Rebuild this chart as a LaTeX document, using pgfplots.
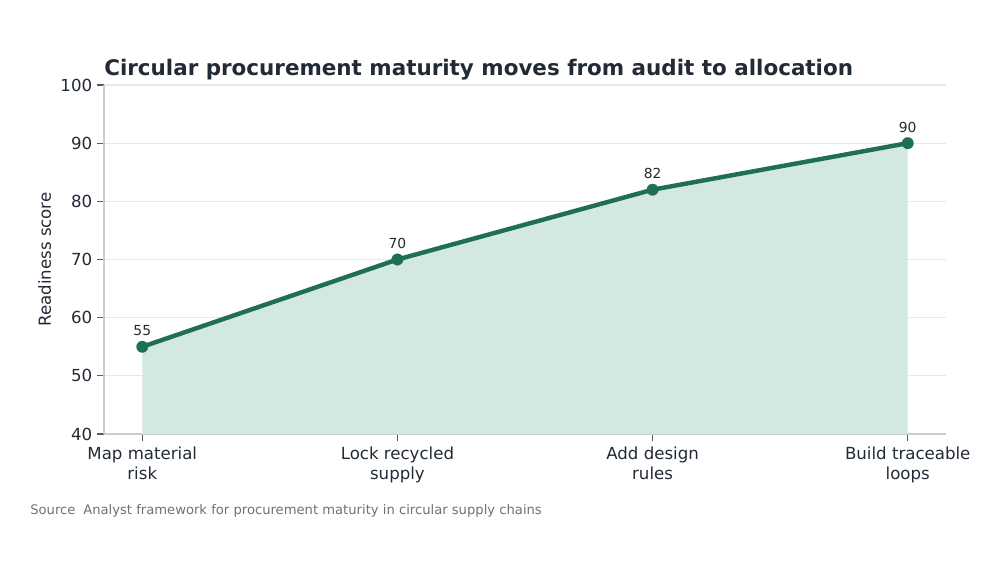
\documentclass[border=0pt]{standalone}
\usepackage{pgfplots}
\pgfplotsset{compat=1.18}
\usepackage{fontspec}
\setmainfont{DejaVu Sans}

\definecolor{linegreen}{HTML}{1F6F54}
\definecolor{fillgreen}{HTML}{D4E8E2}
\definecolor{titleink}{HTML}{222A35}
\definecolor{gridgray}{HTML}{E6E8EB}
\definecolor{spinegray}{HTML}{C9CDD2}
\definecolor{sourcegray}{HTML}{6E7378}

\begin{document}
\begin{tikzpicture}
  % canvas
  \path[fill=white] (0in,0in) rectangle (9.98in,-5.64in);

  \begin{axis}[
    at={(1.04in,-4.34in)}, anchor=south west,
    scale only axis, width=8.42in, height=3.49in,
    xmin=-0.15, xmax=3.15, ymin=40, ymax=100,
    xtick={0,1,2,3},
    xticklabels={{Map material\\risk},{Lock recycled\\supply},{Add design\\rules},{Build traceable\\loops}},
    x tick label style={align=center, font=\fontsize{12}{14}\selectfont, text=titleink, yshift=-1pt},
    ytick={40,50,...,100},
    y tick label style={font=\fontsize{12}{14}\selectfont, text=titleink},
    /pgf/number format/assume math mode=true,
    axis lines*=left,
    axis line style={draw=spinegray, line width=0.8pt},
    tick align=outside,
    major tick length=5pt,
    tick style={draw=black!65, line width=0.8pt},
    ymajorgrids,
    grid style={draw=gridgray, line width=0.8pt},
    ylabel={Readiness score},
    every axis y label/.style={at={(ticklabel cs:0.5)}, rotate=90, anchor=south,
      font=\fontsize{12}{14}\selectfont, text=titleink, yshift=0pt},
    clip=true,
  ]
    % shaded area beneath the maturity path
    \addplot[fill=fillgreen, draw=none] coordinates {
      (0,55) (1,70) (2,82) (3,90)
    } \closedcycle;
    % maturity path with value labels
    \addplot[color=linegreen, line width=3.2pt, mark=*, mark size=4.2pt,
      mark options={fill=linegreen, draw=none, line width=0.1pt, solid},
      nodes near coords,
      every node near coord/.append style={font=\fontsize{10}{12}\selectfont, text=titleink, anchor=south, yshift=4.5pt},
    ] coordinates {
      (0,55) (1,70) (2,82) (3,90)
    };
  \end{axis}

  \node[anchor=base west, font=\fontsize{15.5}{18}\selectfont\bfseries, text=titleink, inner sep=0pt]
    at (1.04in,-0.75in) {Circular procurement maturity moves from audit to allocation};
  \node[anchor=base west, font=\fontsize{9.5}{11}\selectfont, text=sourcegray, inner sep=0pt]
    at (0.30in,-5.14in) {Source\hspace{0.6em}Analyst framework for procurement maturity in circular supply chains};
\end{tikzpicture}
\end{document}
